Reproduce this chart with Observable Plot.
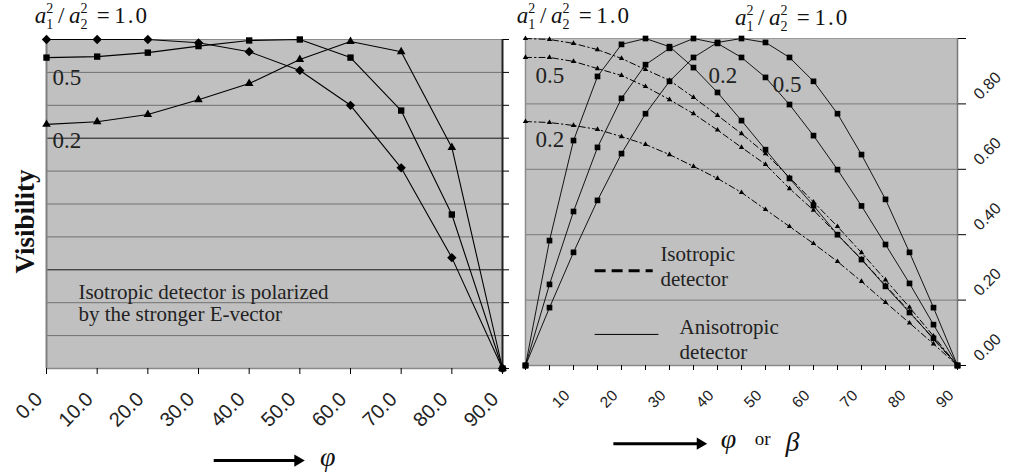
<!DOCTYPE html>
<html><head><meta charset="utf-8">
<script src="https://cdn.jsdelivr.net/npm/d3@7"></script>
<script src="https://cdn.jsdelivr.net/npm/@observablehq/plot@0.6"></script>
<style>
html,body{margin:0;padding:0;background:#fff;}
#chart{position:relative;width:1011px;height:473px;overflow:hidden;background:#fff;}
#chart svg{position:absolute;left:0;top:0;}
</style></head><body><div id="chart"></div>
<script>
// ---------- data ----------
const phiLeft = [0, 10, 20, 30, 40, 50, 60, 70, 80, 90];
const visLeftRatio10 = [1.0, 1.0, 1.0, 0.99, 0.963, 0.906, 0.80, 0.61, 0.337, 0];
const visLeftRatio05 = [0.945, 0.948, 0.96, 0.98, 0.997, 1.0, 0.945, 0.784, 0.468, 0];
const visLeftRatio02 = [0.742, 0.75, 0.772, 0.817, 0.866, 0.939, 0.994, 0.963, 0.672, 0];

const betaRight = [0, 5, 10, 15, 20, 25, 30, 35, 40, 45, 50, 55, 60, 65, 70, 75, 80, 85, 90];
const anisoRatio02 = [0, 0.382, 0.688, 0.884, 0.982, 1.0, 0.975, 0.911, 0.835, 0.749, 0.66, 0.572, 0.489, 0.40, 0.324, 0.242, 0.162, 0.083, 0];
const anisoRatio05 = [0, 0.248, 0.471, 0.667, 0.817, 0.92, 0.97, 1.0, 0.985, 0.942, 0.881, 0.798, 0.703, 0.599, 0.488, 0.37, 0.251, 0.125, 0];
const anisoRatio10 = [0, 0.177, 0.346, 0.505, 0.648, 0.77, 0.869, 0.942, 0.988, 1.0, 0.988, 0.942, 0.869, 0.77, 0.645, 0.508, 0.346, 0.177, 0];
const isoRatio10 = [1.0, 0.997, 0.985, 0.966, 0.939, 0.905, 0.872, 0.82, 0.765, 0.709, 0.648, 0.575, 0.50, 0.425, 0.345, 0.262, 0.178, 0.09, 0];
const isoRatio05 = [0.942, 0.942, 0.93, 0.908, 0.887, 0.853, 0.813, 0.77, 0.72, 0.667, 0.615, 0.541, 0.475, 0.40, 0.325, 0.245, 0.165, 0.08, 0];
const isoRatio02 = [0.746, 0.743, 0.734, 0.722, 0.70, 0.676, 0.645, 0.609, 0.572, 0.529, 0.477, 0.425, 0.373, 0.318, 0.257, 0.193, 0.13, 0.066, 0];

// tick values and tick labels
const leftXTicks = [0, 10, 20, 30, 40, 50, 60, 70, 80, 90];
const leftXTickLabels = ["0.0", "10.0", "20.0", "30.0", "40.0", "50.0", "60.0", "70.0", "80.0", "90.0"];
const leftYTicks = [0, 0.1, 0.2, 0.3, 0.4, 0.5, 0.6, 0.7, 0.8, 0.9, 1.0];
const leftGridLight = [0.1, 0.2, 0.4, 0.5, 0.6, 0.8, 0.9];
const leftGridDark = [0.3, 0.7];
const rightXTicks = betaRight;
const rightXLabelTicks = [10, 20, 30, 40, 50, 60, 70, 80, 90];
const rightXTickLabels = ["10", "20", "30", "40", "50", "60", "70", "80", "90"];
const rightYTicks = [0, 0.2, 0.4, 0.6, 0.8, 1.0];
const rightYLabelTicks = [0, 0.2, 0.4, 0.6, 0.8];
const rightYTickLabels = ["0.00", "0.20", "0.40", "0.60", "0.80"];
const rightGrid = [0.2, 0.4, 0.6, 0.8];

// annotations (data coordinates)
const leftLabels = [
  {text: "0.5", x: 1.2, y: 0.884},
  {text: "0.2", x: 1.2, y: 0.693}
];
const leftNote = [{text: "Isotropic detector is polarized\nby the stronger E-vector", x: 6.3, y: 0.2}];
const rightLabels = [
  {text: "0.5", x: 2.1, y: 0.887},
  {text: "0.2", x: 2.1, y: 0.691},
  {text: "0.2", x: 38.1, y: 0.887},
  {text: "0.5", x: 51.5, y: 0.859}
];
const legendText = [
  {text: "Isotropic\ndetector", x: 28.1, y: 0.306},
  {text: "Anisotropic\ndetector", x: 32.1, y: 0.082}
];
const legendDash = [{x1: 14.4, x2: 26.5, y: 0.29}];
const legendSolid = [{x1: 14.4, x2: 27.7, y: 0.095}];
const ratioLeft = [{x: -2.2, y: 1.049, value: "1.0"}];
const ratioRight = [{x: -1.7, y: 1.046, value: "1.0"}, {x: 43.75, y: 1.04, value: "1.0"}];
const arrowLeft = [{x1: 33, x2: 49.6, y: -0.28}];
const arrowRight = [{x1: 18.3, x2: 36.4, y: -0.239}];

const SERIF = "Liberation Serif, Times New Roman, serif";
const SANS = "Liberation Sans, Arial, sans-serif";

const toRows = (xs, ys, s) => xs.map((x, i) => ({x, y: ys[i], s}));
const leftRows = [
  ...toRows(phiLeft, visLeftRatio10, "1.0"),
  ...toRows(phiLeft, visLeftRatio05, "0.5"),
  ...toRows(phiLeft, visLeftRatio02, "0.2")
];
const anisoRows = [
  ...toRows(betaRight, anisoRatio02, "0.2"),
  ...toRows(betaRight, anisoRatio05, "0.5"),
  ...toRows(betaRight, anisoRatio10, "1.0")
];
const isoRows = [
  ...toRows(betaRight, isoRatio10, "1.0"),
  ...toRows(betaRight, isoRatio05, "0.5"),
  ...toRows(betaRight, isoRatio02, "0.2")
];
const leftXLabelRows = leftXTicks.map((x, i) => ({x, text: leftXTickLabels[i]}));
const rightXLabelRows = rightXLabelTicks.map((x, i) => ({x, text: rightXTickLabels[i]}));
const rightYLabelRows = rightYLabelTicks.map((y, i) => ({y, text: rightYTickLabels[i]}));

// custom mark: a1^2/a2^2 = value with stacked sub/superscripts
function ratioMark(items) {
  return (index, scales) => {
    const g = d3.create("svg:g").attr("text-anchor", "start")
      .attr("font-family", SERIF).attr("fill", "#111");
    for (const it of items) {
      const t = g.append("text").attr("x", scales.x(it.x)).attr("y", scales.y(it.y)).attr("font-size", 23);
      const frac = (sub) => {
        t.append("tspan").attr("font-style", "italic").text("a");
        t.append("tspan").attr("font-size", 14).attr("dy", -10).text("2");
        t.append("tspan").attr("font-size", 14).attr("dx", -7).attr("dy", 16).text(sub);
        t.append("tspan").attr("dy", -6).text("\u2009");
      };
      frac("1");
      t.append("tspan").text("/\u2009");
      frac("2");
      t.append("tspan").text("\u2009=\u2009");
      t.append("tspan").attr("letter-spacing", 2).text(it.value);
    }
    return g.node();
  };
}

// ---------- left panel ----------
const left = Plot.plot({
  width: 520, height: 473,
  marginLeft: 46, marginRight: 18, marginTop: 39, marginBottom: 105,
  x: {domain: [0, 90]},
  y: {domain: [0, 1]},
  style: {background: "transparent", overflow: "visible"},
  marks: [
    Plot.frame({fill: "#c0c0c0", stroke: null}),
    Plot.ruleY(leftGridLight, {stroke: "#707070", strokeWidth: 1}),
    Plot.ruleY(leftGridDark, {stroke: "#151515", strokeWidth: 1}),
    Plot.ruleY([1], {stroke: "#8a8a8a", strokeWidth: 1}),
    Plot.ruleY([0], {stroke: "#8a8a8a", strokeWidth: 1.5}),
    Plot.ruleX([0], {stroke: "#808080", strokeWidth: 2}),
    Plot.ruleX([90], {stroke: "#222", strokeWidth: 2}),
    Plot.axisX(leftXTicks, {tickSize: 6, tickFormat: () => "", label: null}),
    Plot.text(leftXLabelRows, {x: "x", text: "text", frameAnchor: "bottom", dx: -3, dy: 32, rotate: -45,
      textAnchor: "end", fontSize: 20, fontFamily: SANS, fill: "#222"}),
    Plot.axisY(leftYTicks, {anchor: "right", tickSize: 6, tickFormat: () => "", label: null}),
    Plot.line(leftRows, {x: "x", y: "y", z: "s", stroke: "#000", strokeWidth: 1.1}),
    Plot.dot(leftRows.filter(d => d.s === "1.0"), {x: "x", y: "y", symbol: "diamond2", r: 4.2, fill: "#000"}),
    Plot.dot(leftRows.filter(d => d.s === "0.5"), {x: "x", y: "y", symbol: "square", r: 3.6, fill: "#000"}),
    Plot.dot(leftRows.filter(d => d.s === "0.2"), {x: "x", y: "y", symbol: "triangle", r: 3.2, fill: "#000"}),
    Plot.text(leftLabels, {x: "x", y: "y", text: "text", textAnchor: "start", fontSize: 23, fontFamily: SERIF, fill: "#222"}),
    Plot.text(leftNote, {x: "x", y: "y", text: "text", textAnchor: "start", fontSize: 21, lineHeight: 1.08, fontFamily: SERIF, fill: "#222"}),
    ratioMark(ratioLeft),
    Plot.text(["Visibility"], {x: -4.2, y: 0.447, rotate: -90, fontSize: 27, fontWeight: "bold", fontFamily: SERIF, fill: "#111"}),
    Plot.link(arrowLeft, {x1: "x1", x2: "x2", y1: "y", y2: "y", stroke: "#000", strokeWidth: 3}),
    Plot.dot(arrowLeft, {x: "x2", y: "y", symbol: "triangle", rotate: 90, r: 4.5, fill: "#000"}),
    Plot.text(["\u03C6"], {x: 55.5, y: -0.27, fontSize: 28, fontStyle: "italic", fontFamily: SERIF, fill: "#111"})
  ]
});

// ---------- right panel ----------
const right = Plot.plot({
  width: 1011, height: 473,
  marginLeft: 525, marginRight: 54, marginTop: 38, marginBottom: 108,
  x: {domain: [0, 90]},
  y: {domain: [0, 1]},
  style: {background: "transparent", overflow: "visible"},
  marks: [
    Plot.frame({fill: "#c0c0c0", stroke: null}),
    Plot.ruleY(rightGrid, {stroke: "#7a7a7a", strokeWidth: 1}),
    Plot.ruleY([1], {stroke: "#999", strokeWidth: 1}),
    Plot.ruleY([0], {stroke: "#8a8a8a", strokeWidth: 1.5}),
    Plot.ruleX([0], {stroke: "#8a8a8a", strokeWidth: 1.5}),
    Plot.ruleX([90], {stroke: "#777", strokeWidth: 1.5}),
    Plot.axisX(rightXTicks, {tickSize: 5, tickFormat: () => "", label: null}),
    Plot.text(rightXLabelRows, {x: "x", text: "text", frameAnchor: "bottom", dx: -3, dy: 31, rotate: -45,
      textAnchor: "end", fontSize: 15.5, fontFamily: SANS, fill: "#222"}),
    Plot.axisY(rightYTicks, {anchor: "right", tickSize: 8, tickFormat: () => "", label: null}),
    Plot.text(rightYLabelRows, {y: "y", text: "text", frameAnchor: "right", dx: 19, dy: -7, rotate: -45,
      textAnchor: "start", fontSize: 16, fontFamily: SANS, fill: "#222"}),
    Plot.line(isoRows, {x: "x", y: "y", z: "s", stroke: "#000", strokeWidth: 1, strokeDasharray: "6,3,1.5,3"}),
    Plot.dot(isoRows, {x: "x", y: "y", symbol: "triangle", r: 2, fill: "#000"}),
    Plot.line(anisoRows, {x: "x", y: "y", z: "s", stroke: "#000", strokeWidth: 0.9}),
    Plot.dot(anisoRows, {x: "x", y: "y", symbol: "square", r: 3.2, fill: "#000"}),
    Plot.text(rightLabels, {x: "x", y: "y", text: "text", textAnchor: "start", fontSize: 23, fontFamily: SERIF, fill: "#222"}),
    Plot.link(legendDash, {x1: "x1", x2: "x2", y1: "y", y2: "y", stroke: "#000", strokeWidth: 3, strokeDasharray: "11,6"}),
    Plot.link(legendSolid, {x1: "x1", x2: "x2", y1: "y", y2: "y", stroke: "#000", strokeWidth: 1}),
    Plot.text(legendText, {x: "x", y: "y", text: "text", textAnchor: "start", fontSize: 21, lineHeight: 1.19, fontFamily: SERIF, fill: "#222"}),
    ratioMark(ratioRight),
    Plot.link(arrowRight, {x1: "x1", x2: "x2", y1: "y", y2: "y", stroke: "#000", strokeWidth: 3}),
    Plot.dot(arrowRight, {x: "x2", y: "y", symbol: "triangle", rotate: 90, r: 4.5, fill: "#000"}),
    Plot.text(["\u03C6"], {x: 42.3, y: -0.225, fontSize: 28, fontStyle: "italic", fontFamily: SERIF, fill: "#111"}),
    Plot.text(["or"], {x: 49.4, y: -0.225, fontSize: 19, fontFamily: SERIF, fill: "#111"}),
    Plot.text(["\u03B2"], {x: 55.6, y: -0.235, fontSize: 28, fontStyle: "italic", fontFamily: SERIF, fill: "#111"})
  ]
});

document.getElementById("chart").append(left, right);
</script></body></html>
